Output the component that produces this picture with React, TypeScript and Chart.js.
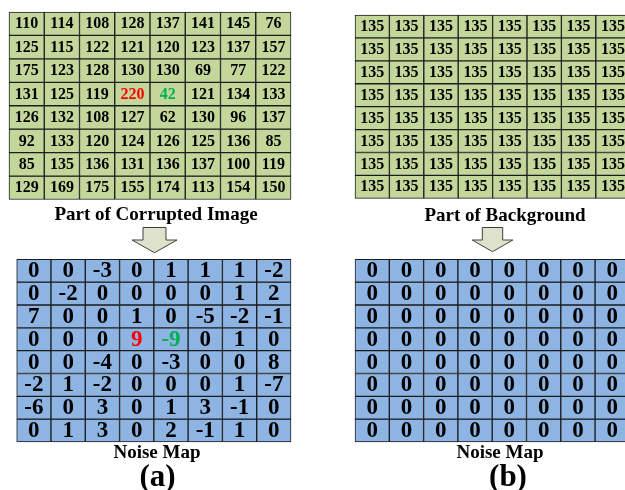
import { useEffect, useRef } from "react";
import { Chart, registerables } from "chart.js";

Chart.register(...registerables);

// 8x8 block taken from the corrupted image
const corruptedBlock: number[][] = [
  [110, 114, 108, 128, 137, 141, 145, 76],
  [125, 115, 122, 121, 120, 123, 137, 157],
  [175, 123, 128, 130, 130, 69, 77, 122],
  [131, 125, 119, 220, 42, 121, 134, 133],
  [126, 132, 108, 127, 62, 130, 96, 137],
  [92, 133, 120, 124, 126, 125, 136, 85],
  [85, 135, 136, 131, 136, 137, 100, 119],
  [129, 169, 175, 155, 174, 113, 154, 150],
];

// same block of the clean background
const backgroundBlock: number[][] = [
  [135, 135, 135, 135, 135, 135, 135, 135],
  [135, 135, 135, 135, 135, 135, 135, 135],
  [135, 135, 135, 135, 135, 135, 135, 135],
  [135, 135, 135, 135, 135, 135, 135, 135],
  [135, 135, 135, 135, 135, 135, 135, 135],
  [135, 135, 135, 135, 135, 135, 135, 135],
  [135, 135, 135, 135, 135, 135, 135, 135],
  [135, 135, 135, 135, 135, 135, 135, 135],
];

// noise map of the corrupted block
const noiseMapA: number[][] = [
  [0, 0, -3, 0, 1, 1, 1, -2],
  [0, -2, 0, 0, 0, 0, 1, 2],
  [7, 0, 0, 1, 0, -5, -2, -1],
  [0, 0, 0, 9, -9, 0, 1, 0],
  [0, 0, -4, 0, -3, 0, 0, 8],
  [-2, 1, -2, 0, 0, 0, 1, -7],
  [-6, 0, 3, 0, 1, 3, -1, 0],
  [0, 1, 3, 0, 2, -1, 1, 0],
];

// noise map of the background block
const noiseMapB: number[][] = [
  [0, 0, 0, 0, 0, 0, 0, 0],
  [0, 0, 0, 0, 0, 0, 0, 0],
  [0, 0, 0, 0, 0, 0, 0, 0],
  [0, 0, 0, 0, 0, 0, 0, 0],
  [0, 0, 0, 0, 0, 0, 0, 0],
  [0, 0, 0, 0, 0, 0, 0, 0],
  [0, 0, 0, 0, 0, 0, 0, 0],
  [0, 0, 0, 0, 0, 0, 0, 0],
];

// highlighted cells: [row, column]
const redCell: [number, number] = [3, 3];
const greenCell: [number, number] = [3, 4];

const W = 625;
const H = 490;
const SERIF = '"Liberation Serif", "Times New Roman", serif';
const GREEN_FILL = "#c4d79b";
const BLUE_FILL = "#8db4e2";
const LINE = "#1c1c1c";

type Grid = {
  id: string;
  values: number[][];
  box: { x0: number; x1: number; y0: number; y1: number };
  fill: string;
  fontSize: number;
  highlight: boolean;
};

const grids: Grid[] = [
  { id: "A", values: corruptedBlock, box: { x0: 9, x1: 291, y0: 12, y1: 199.5 }, fill: GREEN_FILL, fontSize: 16, highlight: true },
  { id: "B", values: backgroundBlock, box: { x0: 355, x1: 630.2, y0: 15, y1: 198.3 }, fill: GREEN_FILL, fontSize: 16, highlight: false },
  { id: "C", values: noiseMapA, box: { x0: 16.7, x1: 291, y0: 259.3, y1: 442 }, fill: BLUE_FILL, fontSize: 23, highlight: true },
  { id: "D", values: noiseMapB, box: { x0: 355, x1: 629.4, y0: 259.3, y1: 442 }, fill: BLUE_FILL, fontSize: 23, highlight: false },
];

const captions = [
  { text: "Part of Corrupted Image", x: 156, y: 220, size: 19 },
  { text: "Part of Background", x: 505, y: 221, size: 19 },
  { text: "Noise Map", x: 157, y: 458, size: 19 },
  { text: "Noise Map", x: 500, y: 458, size: 19 },
  { text: "(a)", x: 157.5, y: 486, size: 31 },
  { text: "(b)", x: 508, y: 486, size: 31 },
];

const arrows = [
  { cx: 154.5, top: 227.5, shoulder: 240, tip: 252.7, shaft: 11.5, head: 22.5 },
  { cx: 492.5, top: 227.5, shoulder: 240, tip: 251.7, shaft: 10.2, head: 20.3 },
];

function textColor(g: Grid, r: number, c: number): string {
  if (!g.highlight) return "#000";
  if (r === redCell[0] && c === redCell[1]) return "#ff0000";
  if (r === greenCell[0] && c === greenCell[1]) return "#00b050";
  return "#000";
}

function buildDatasets() {
  const datasets: any[] = [];
  grids.forEach((g) => {
    const cellWidth = (g.box.x1 - g.box.x0) / 8;
    g.values.forEach((row, r) => {
      datasets.push({
        type: "bar",
        label: `${g.id}-${r}`,
        xAxisID: "x" + g.id,
        yAxisID: "y" + g.id,
        data: row.map((_, c) => ({ x: c + 0.5, y: [r, r + 1] })),
        cellText: row.map((v) => String(v)),
        cellColors: row.map((_, c) => textColor(g, r, c)),
        cellFont: `bold ${g.fontSize}px ${SERIF}`,
        backgroundColor: g.fill,
        borderColor: LINE,
        borderWidth: 1,
        borderSkipped: false,
        grouped: false,
        barThickness: cellWidth,
      });
    });
  });
  return datasets;
}

function buildScales() {
  const scales: any = {};
  grids.forEach((g) => {
    const { x0, x1, y0, y1 } = g.box;
    const px = (x1 - x0) / 8;
    const py = (y1 - y0) / 8;
    scales["x" + g.id] = {
      type: "linear",
      axis: "x",
      display: false,
      offset: false,
      bounds: "data",
      min: -x0 / px,
      max: (W - x0) / px,
    };
    scales["y" + g.id] = {
      type: "linear",
      axis: "y",
      display: false,
      reverse: true,
      bounds: "data",
      min: -y0 / py,
      max: (H - y0) / py,
    };
  });
  return scales;
}

// writes each cell's number in the middle of its bar
const cellTextPlugin = {
  id: "cellText",
  afterDatasetsDraw(chart: any) {
    const ctx = chart.ctx;
    chart.data.datasets.forEach((ds: any, i: number) => {
      const meta = chart.getDatasetMeta(i);
      ctx.save();
      ctx.font = ds.cellFont;
      ctx.textAlign = "center";
      ctx.textBaseline = "middle";
      meta.data.forEach((el: any, j: number) => {
        const { x, y, base } = el.getProps(["x", "y", "base"], true);
        ctx.fillStyle = ds.cellColors[j];
        ctx.fillText(ds.cellText[j], x, (y + base) / 2 + 0.5);
      });
      ctx.restore();
    });
  },
};

// captions under the blocks and the down arrows between them
const figureNotesPlugin = {
  id: "figureNotes",
  afterDraw(chart: any) {
    const ctx = chart.ctx;
    ctx.save();
    ctx.fillStyle = "#000";
    ctx.textAlign = "center";
    ctx.textBaseline = "alphabetic";
    captions.forEach((c) => {
      ctx.font = `bold ${c.size}px ${SERIF}`;
      ctx.fillText(c.text, c.x, c.y);
    });
    arrows.forEach((a) => {
      ctx.beginPath();
      ctx.moveTo(a.cx - a.shaft, a.top);
      ctx.lineTo(a.cx + a.shaft, a.top);
      ctx.lineTo(a.cx + a.shaft, a.shoulder);
      ctx.lineTo(a.cx + a.head, a.shoulder);
      ctx.lineTo(a.cx, a.tip);
      ctx.lineTo(a.cx - a.head, a.shoulder);
      ctx.lineTo(a.cx - a.shaft, a.shoulder);
      ctx.closePath();
      ctx.fillStyle = "#dde3cb";
      ctx.fill();
      ctx.strokeStyle = "#404040";
      ctx.lineWidth = 1;
      ctx.stroke();
    });
    ctx.restore();
  },
};

export default function App() {
  const canvasRef = useRef<HTMLCanvasElement>(null);

  useEffect(() => {
    const canvas = canvasRef.current;
    if (!canvas) return;
    const chart = new Chart(canvas, {
      type: "bar",
      data: { datasets: buildDatasets() },
      options: {
        responsive: false,
        animation: false,
        devicePixelRatio: 1,
        events: [],
        layout: { padding: 0 },
        plugins: {
          legend: { display: false },
          tooltip: { enabled: false },
          title: { display: false },
        },
        scales: buildScales(),
      } as any,
      plugins: [cellTextPlugin, figureNotesPlugin],
    });
    return () => chart.destroy();
  }, []);

  return (
    <div
      style={{
        position: "fixed",
        left: 0,
        top: 0,
        width: W,
        height: H,
        overflow: "hidden",
        background: "#ffffff",
      }}
    >
      <canvas
        ref={canvasRef}
        width={W}
        height={H}
        style={{ display: "block", width: W, height: H }}
      />
    </div>
  );
}
